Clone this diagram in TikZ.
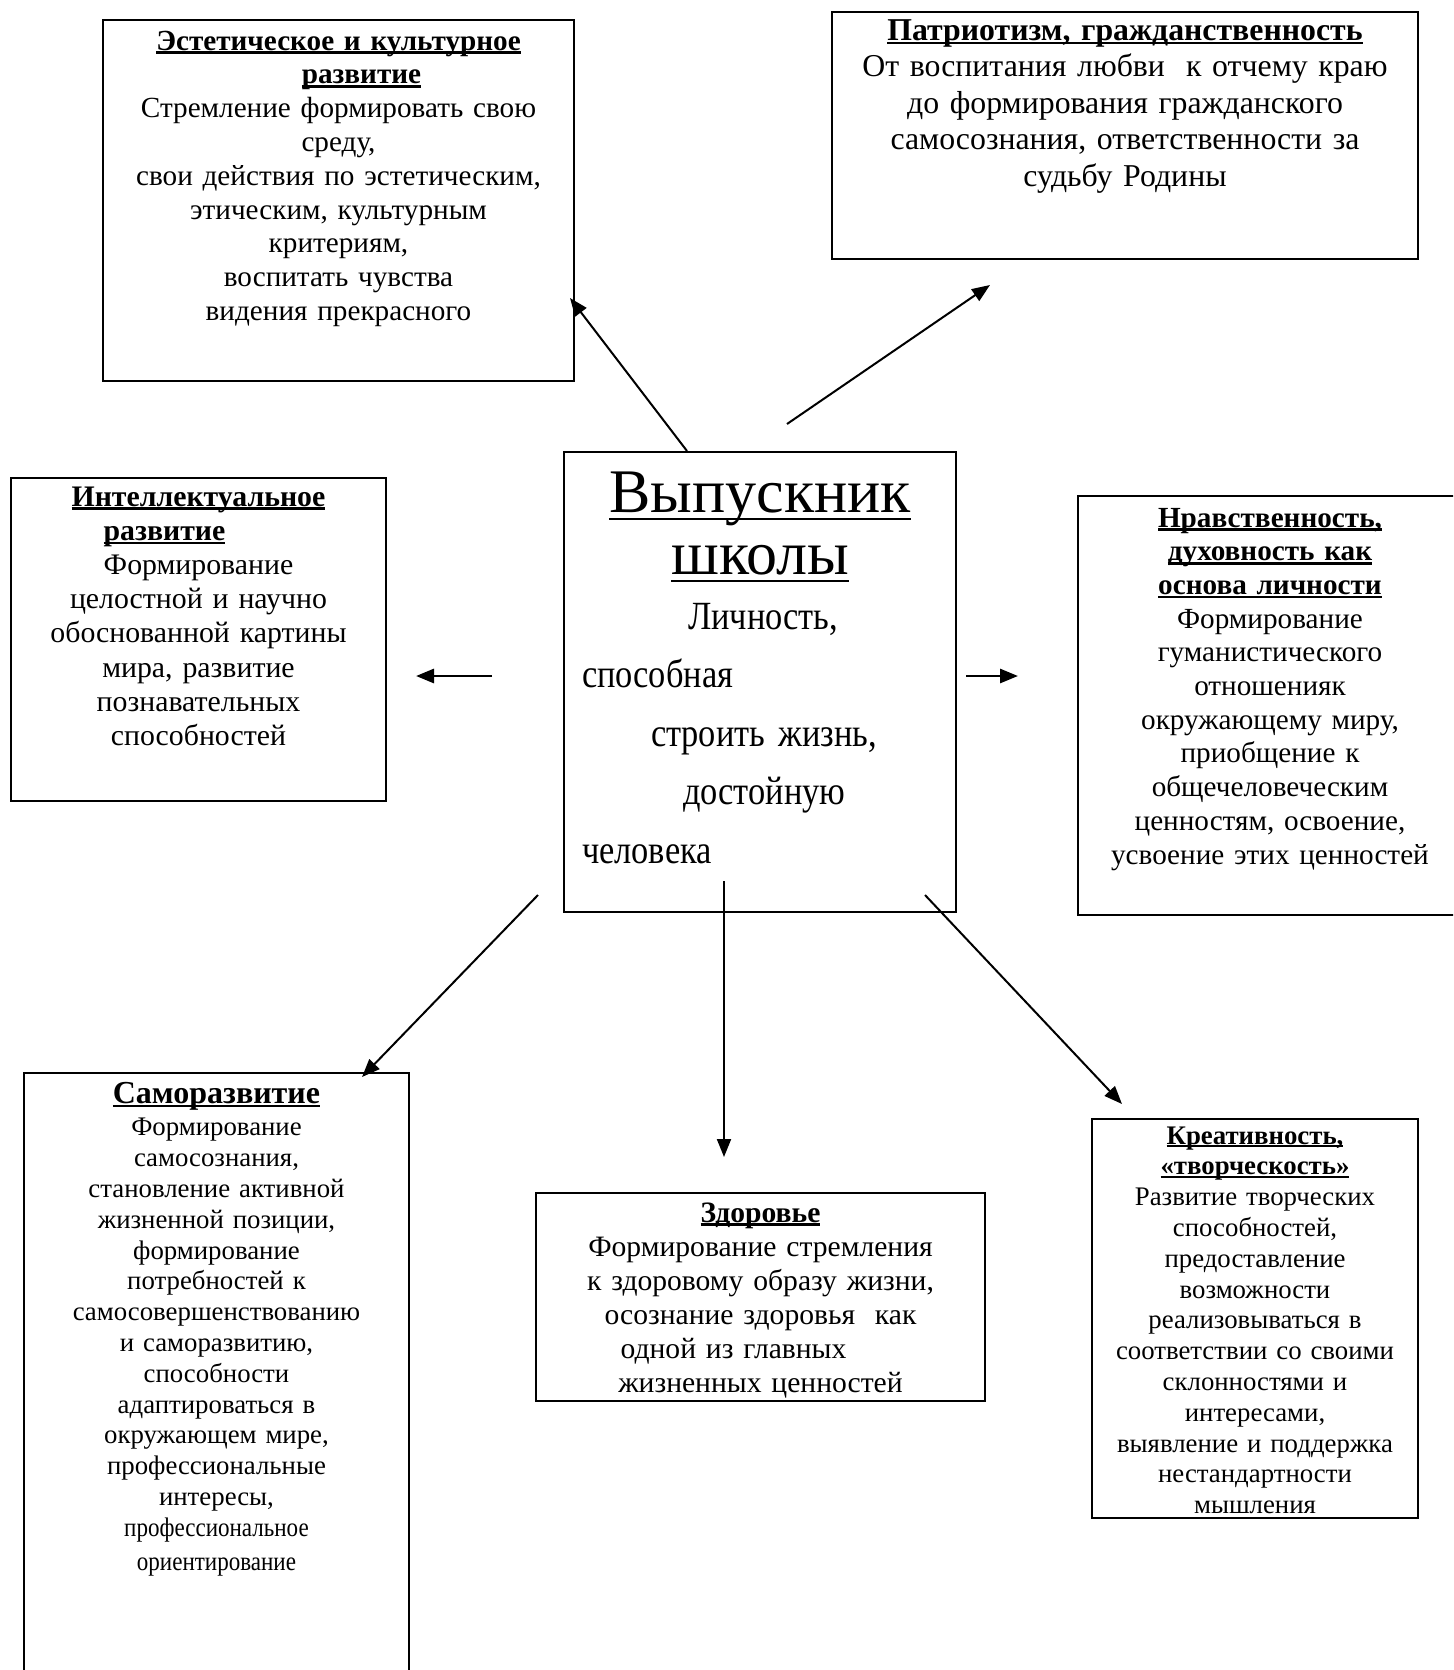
\documentclass[tikz,border=0pt]{standalone}
\usepackage{fontspec}
\setmainfont{Liberation Serif}
\newfontfamily\narrowrm[FakeStretch=0.86]{Liberation Serif}
\usetikzlibrary{calc,arrows.meta}

\newsavebox\ulbox
\newcommand{\undl}[1]{\leavevmode\sbox\ulbox{#1}\rlap{\rule[-0.13em]{\wd\ulbox}{1.2pt}}\usebox\ulbox}
\newcommand{\uhead}[1]{\undl{\bfseries #1}}

\tikzset{
  box/.style={draw, line width=1pt, inner sep=0pt, anchor=north west, align=center},
  arr/.style={-{Triangle[length=9pt,width=7pt]}, line width=1pt},
}

\begin{document}
\begin{tikzpicture}[x=0.5pt,y=-0.5pt]
  \useasboundingbox (0,0) rectangle (1453,1670);
  \clip (0,0) rectangle (1453,1670);

  % boxes
  \node[box, text width=235.5pt, text height=15pt, text depth=165.5pt,
        font=\fontsize{14.6}{16.9}\selectfont] (aest) at (102,19)
    {\uhead{Эстетическое и культурное}\\ \hspace*{23pt}\uhead{развитие}\\
     Стремление формировать свою\\ среду,\\ свои действия по эстетическим,\\
     этическим, культурным\\ критериям,\\ воспитать чувства\\ видения прекрасного};
  \node[box, text width=293pt, text height=14pt, text depth=109.5pt,
        font=\fontsize{15.9}{18.3}\selectfont] (patr) at (831,11)
    {\uhead{Патриотизм, гражданственность}\\ От воспитания любви~ к отчему краю\\
     до формирования гражданского\\ самосознания, ответственности за\\ судьбу Родины};
  \node[box, text width=187.5pt, text height=14pt, text depth=147.5pt,
        font=\fontsize{14.9}{17.1}\selectfont] (intel) at (10,477)
    {\uhead{Интеллектуальное}\\ \uhead{развитие}\rule{34pt}{0pt}\\ Формирование\\
     целостной и научно\\ обоснованной картины\\ мира, развитие\\ познавательных\\ способностей};
  \node[box, align=left, text width=196pt, text height=30pt, text depth=200pt,
        font=\narrowrm\fontsize{20}{29.3}\selectfont] (grad) at (563,451)
    {{\rmfamily\fontsize{31}{31}\selectfont\makebox[196pt]{\undl{Выпускник}}}\\[1.7pt]
     {\rmfamily\fontsize{31}{31}\selectfont\makebox[196pt]{\undl{школы}}}\\[-1.8pt]
     \hspace*{62pt}Личность,\\ \hspace*{9pt}способная\\ \hspace*{43.5pt}строить жизнь,\\
     \hspace*{59.5pt}достойную\\ \hspace*{9pt}человека};
  \node[box, text width=192pt, text height=15.5pt, text depth=194pt,
        font=\fontsize{14.6}{16.85}\selectfont] (moral) at (1077,495)
    {\uhead{Нравственность,}\\ \uhead{духовность как}\\ \uhead{основа личности}\\
     Формирование\\ гуманистического\\ отношенияк\\ окружающему миру,\\ приобщение к\\
     общечеловеческим\\ ценностям, освоение,\\ усвоение этих ценностей};
  \node[box, text width=192.5pt, text height=15pt, text depth=304pt,
        font=\fontsize{13.4}{15.4}\selectfont] (selfdev) at (23,1072)
    {{\fontsize{16}{15.4}\selectfont\uhead{Саморазвитие}}\\[1pt] Формирование\\ самосознания,\\
     становление активной\\ жизненной позиции,\\ формирование\\ потребностей к\\
     самосовершенствованию\\ и саморазвитию,\\ способности\\ адаптироваться в\\
     окружающем мире,\\ профессиональные\\ интересы,\\ {\narrowrm профессиональное}\\[1.5pt]
     {\narrowrm ориентирование}};
  \node[box, text width=224.5pt, text height=14.5pt, text depth=89.5pt,
        font=\fontsize{14.8}{17}\selectfont] (health) at (535,1192)
    {\uhead{Здоровье}\\ Формирование стремления\\ к здоровому образу жизни,\\
     осознание здоровья~ как\\ одной из главных\rule{27pt}{0pt}\\ жизненных ценностей};
  \node[box, text width=163pt, text height=12.5pt, text depth=187pt,
        font=\fontsize{13.4}{15.4}\selectfont] (creat) at (1091,1118)
    {\uhead{Креативность,}\\ \uhead{«творческость»}\\ Развитие творческих\\ способностей,\\
     предоставление\\ возможности\\ реализовываться в\\ соответствии со своими\\
     склонностями и\\ интересами,\\ выявление и поддержка\\ нестандартности\\ мышления};

  % free ends of the arrows
  \coordinate (p0) at (787,424);
  \coordinate (p1) at (990,285);
  \coordinate (i0) at (492,676);
  \coordinate (i1) at (416,676);
  \coordinate (m0) at (966,676);
  \coordinate (m1) at (1018,676);
  \coordinate (s0) at (538,895);
  \coordinate (s1) at (362,1077);
  \coordinate (h0) at (724,881);
  \coordinate (h1) at (724,1157);
  \coordinate (k0) at (925,895);
  \coordinate (k1) at (1122,1104);

  % arrows
  \draw[arr] ($(grad.north west)+(124,0)$) -- ($(aest.north east)+(-5,279)$);
  \draw[arr] (p0) -- (p1);
  \draw[arr, line width=1.4pt] (i0) -- (i1);
  \draw[arr, line width=1.4pt] (m0) -- (m1);
  \draw[arr] (s0) -- (s1);
  \draw[arr] (h0) -- (h1);
  \draw[arr] (k0) -- (k1);
\end{tikzpicture}
\end{document}
